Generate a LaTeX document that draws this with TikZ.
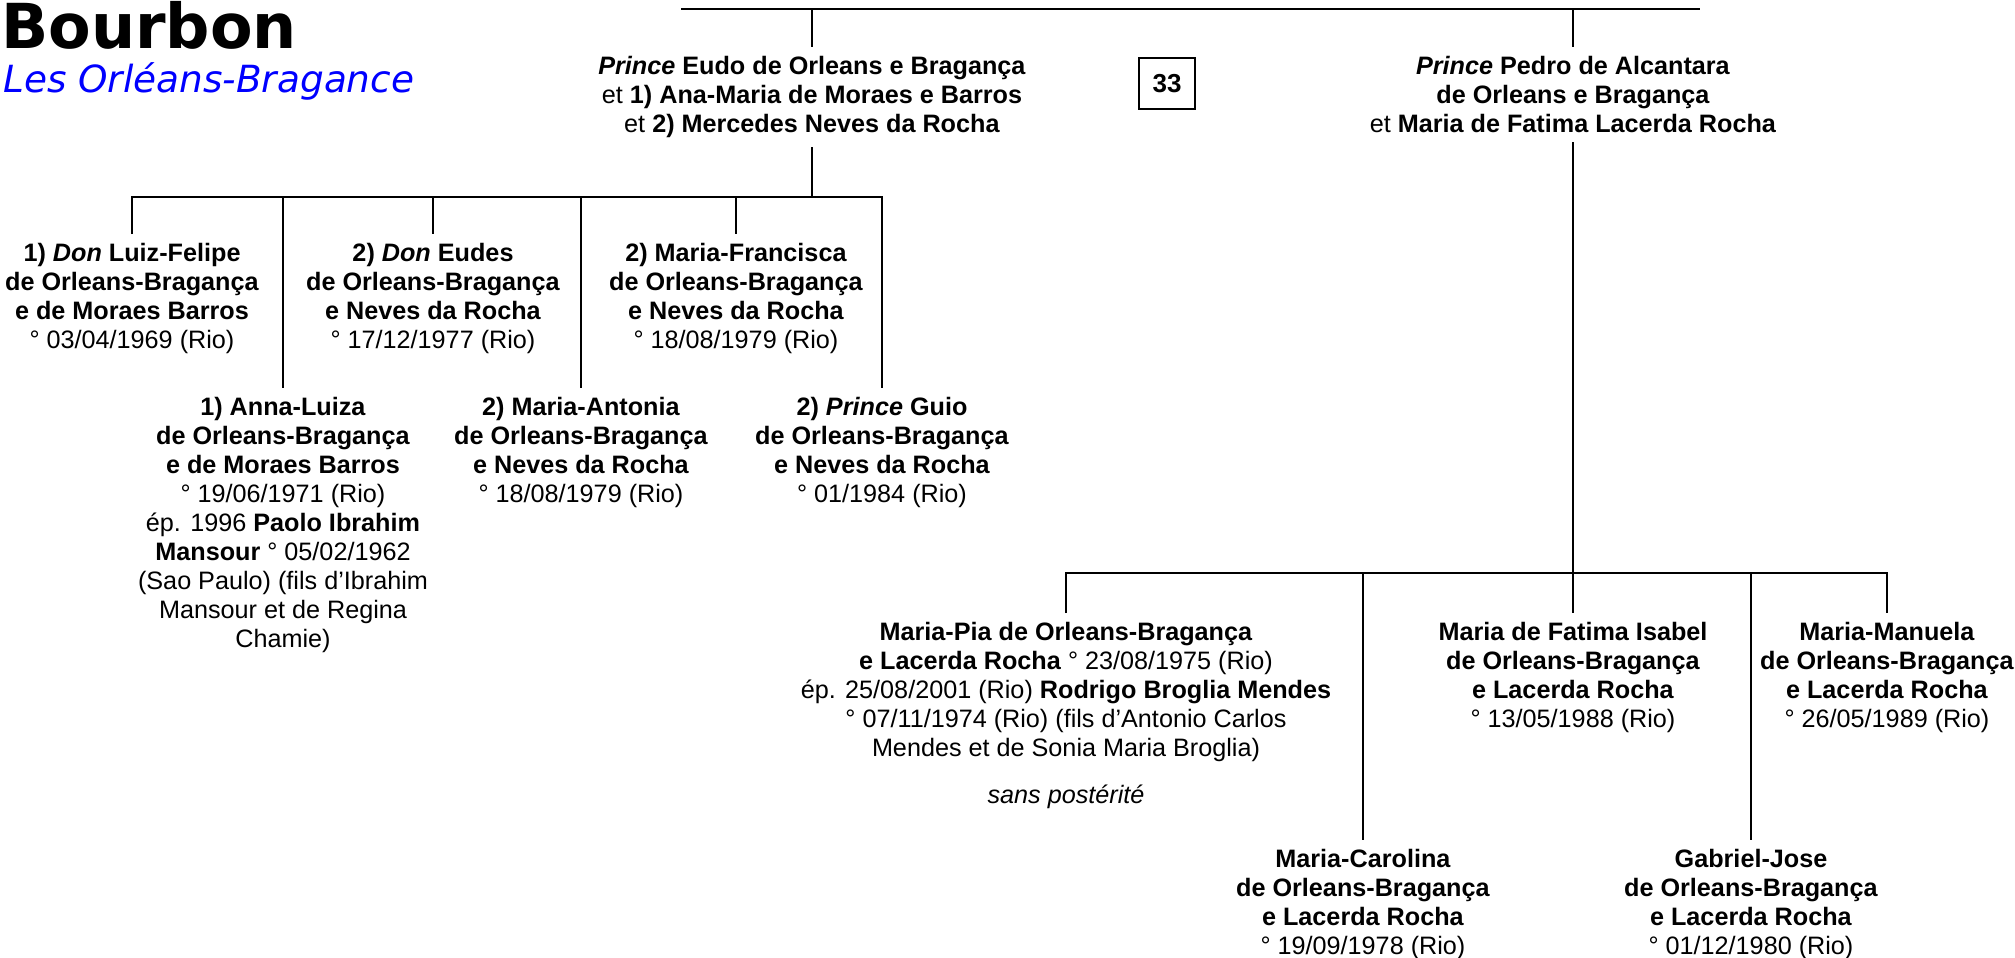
\documentclass[tikz,border=0pt]{standalone}
\usepackage{fontspec}
\setmainfont{Liberation Sans}
\newfontfamily\titrefont[BoldFont={DejaVu Sans Bold},ItalicFont={DejaVu Sans Oblique}]{DejaVu Sans}
\usepackage{tikz}
\usetikzlibrary{positioning}
\newcommand{\pri}{\textit{Prince}}
\newcommand{\don}{\textit{Don}}

\begin{document}
\begin{tikzpicture}[x=0.5pt,y=-0.5pt,line width=1.3pt,
			pers/.style={align=center,anchor=north,inner sep=4pt,font=\fontsize{12.6}{14.5}\selectfont}]
			\useasboundingbox (0,0) rectangle (2015,958);
			\node[anchor=base west,inner sep=0pt,font=\titrefont\bfseries\fontsize{31}{34}\selectfont] (titre) at (0,48) {Bourbon};
			\node[anchor=base west,inner sep=0pt,text=blue,font=\titrefont\itshape\fontsize{18.7}{22}\selectfont] (soustitre) at (2,92) {Les Orléans-Bragance};
			% parents
			\node[pers] (eudo) at (812,47) {\textbf{\pri{} Eudo de Orleans e Bragança}\\ et \textbf{1) Ana-Maria de Moraes e Barros}\\ et \textbf{2) Mercedes Neves da Rocha}};
			\node[pers] (pedro) at (1573,47) {\textbf{\pri{} Pedro de Alcantara}\\ \textbf{de Orleans e Bragança}\\ et \textbf{Maria de Fatima Lacerda Rocha}};
			\node[draw,line width=0.6pt,minimum width=28pt,minimum height=25.5pt,font=\bfseries\fontsize{13}{15}\selectfont] (num) at (1167,83.5) {33};
			% enfants Eudo
			\node[pers] (lf) at (132,234) {\textbf{1) \don{} Luiz-Felipe}\\ \textbf{de Orleans-Bragança}\\ \textbf{e de Moraes Barros}\\ ° 03/04/1969 (Rio)};
			\node[pers] (al) at (283,388) {\textbf{1) Anna-Luiza}\\ \textbf{de Orleans-Bragança}\\ \textbf{e de Moraes Barros}\\ ° 19/06/1971 (Rio)\\ ép. 1996 \textbf{Paolo Ibrahim}\\ \textbf{Mansour} ° 05/02/1962\\ (Sao Paulo) (fils d’Ibrahim\\ Mansour et de Regina\\ Chamie)};
			\node[pers] (eu) at (433,234) {\textbf{2) \don{} Eudes}\\ \textbf{de Orleans-Bragança}\\ \textbf{e Neves da Rocha}\\ ° 17/12/1977 (Rio)};
			\node[pers] (ma) at (581,388) {\textbf{2) Maria-Antonia}\\ \textbf{de Orleans-Bragança}\\ \textbf{e Neves da Rocha}\\ ° 18/08/1979 (Rio)};
			\node[pers] (mf) at (736,234) {\textbf{2) Maria-Francisca}\\ \textbf{de Orleans-Bragança}\\ \textbf{e Neves da Rocha}\\ ° 18/08/1979 (Rio)};
			\node[pers] (gu) at (882,388) {\textbf{2) \pri{} Guio}\\ \textbf{de Orleans-Bragança}\\ \textbf{e Neves da Rocha}\\ ° 01/1984 (Rio)};
			% enfants Pedro
			\node[pers] (mp) at (1066,613) {\textbf{Maria-Pia de Orleans-Bragança}\\ \textbf{e Lacerda Rocha} ° 23/08/1975 (Rio)\\ ép. 25/08/2001 (Rio) \textbf{Rodrigo Broglia Mendes}\\ ° 07/11/1974 (Rio) (fils d’Antonio Carlos\\ Mendes et de Sonia Maria Broglia)\\[9pt] \textit{sans postérité}};
			\node[pers] (mc) at (1363,840) {\textbf{Maria-Carolina}\\ \textbf{de Orleans-Bragança}\\ \textbf{e Lacerda Rocha}\\ ° 19/09/1978 (Rio)};
			\node[pers] (mfi) at (1573,613) {\textbf{Maria de Fatima Isabel}\\ \textbf{de Orleans-Bragança}\\ \textbf{e Lacerda Rocha}\\ ° 13/05/1988 (Rio)};
			\node[pers] (gj) at (1751,840) {\textbf{Gabriel-Jose}\\ \textbf{de Orleans-Bragança}\\ \textbf{e Lacerda Rocha}\\ ° 01/12/1980 (Rio)};
			\node[pers] (mm) at (1887,613) {\textbf{Maria-Manuela}\\ \textbf{de Orleans-Bragança}\\ \textbf{e Lacerda Rocha}\\ ° 26/05/1989 (Rio)};
			% traits
			\coordinate (haut) at (681,9);
			\coordinate (hautfin) at (1700,9);
			\coordinate (barE) at (0,197);
			\coordinate (barP) at (0,573);
			\draw (haut) -- (hautfin);
			\draw (eudo.north |- haut) -- (eudo.north);
			\draw (pedro.north |- haut) -- (pedro.north);
			\draw (eudo.south) -- (eudo.south |- barE);
			\draw (lf.north) -- (lf.north |- barE) -- (gu.north |- barE) -- (gu.north);
			\foreach \c in {al,eu,ma,mf}
				\draw (\c.north |- barE) -- (\c.north);
			\draw (pedro.south) -- (mfi.north);
			\draw (mp.north) -- (mp.north |- barP) -- (mm.north |- barP) -- (mm.north);
			\foreach \c in {mc,gj}
				\draw (\c.north |- barP) -- (\c.north);
\end{tikzpicture}
\end{document}
